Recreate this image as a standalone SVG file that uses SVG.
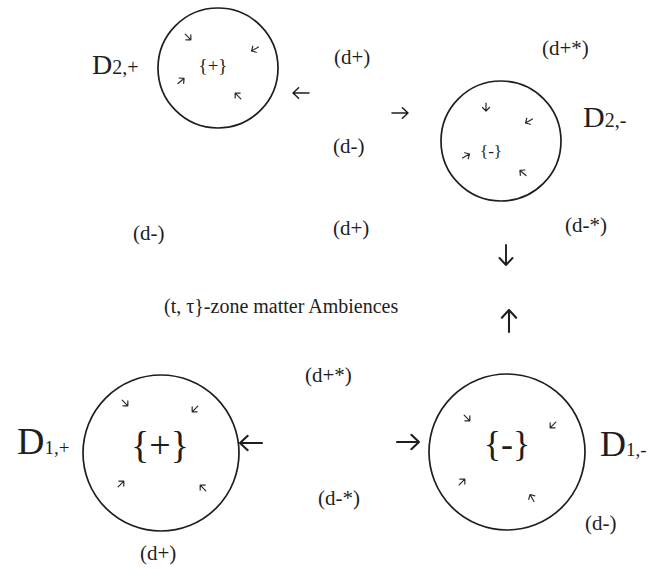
<svg xmlns="http://www.w3.org/2000/svg" width="651" height="573" viewBox="0 0 651 573">
<style>
text{font-family:"Liberation Serif","Times New Roman",serif;fill:#1e1e1e}
.lbl{font-size:21px}
.ring{fill:none;stroke:#1e1e1e;stroke-width:1.7}
.sa{fill:none;stroke:#2a2a2a;stroke-width:1.2;stroke-linecap:round;stroke-linejoin:round}
.ba{fill:none;stroke:#1e1e1e;stroke-width:1.9;stroke-linecap:round;stroke-linejoin:round}
</style>
<defs>
<g id="s"><path class="sa" d="M-4,0 L4,0 M0.5,-3.5 L4,0 L0.5,3.5"/></g>
<g id="b"><path class="ba" d="M-10,0 L10,0 M3,-6.5 L10,0 L3,6.5"/></g>
</defs>
<rect width="651" height="573" fill="#fff"/>

<g id="node-D2plus">
<circle class="ring" cx="218" cy="68" r="60"/>
<text x="92" y="74"><tspan font-size="28">D</tspan><tspan font-size="20">2,+</tspan></text>
<text x="213" y="72" font-size="19" text-anchor="middle">{+}</text>
<use href="#s" transform="translate(188,37) rotate(45)"/>
<use href="#s" transform="translate(255,49) rotate(150)"/>
<use href="#s" transform="translate(181,81) rotate(-40)"/>
<use href="#s" transform="translate(238,96) rotate(-135)"/>
</g>

<g id="node-D2minus">
<circle class="ring" cx="501" cy="141" r="60"/>
<text x="583" y="127"><tspan font-size="30">D</tspan><tspan font-size="20">2,-</tspan></text>
<text x="491" y="157" font-size="17" text-anchor="middle">{-}</text>
<use href="#s" transform="translate(486,107) rotate(90)"/>
<use href="#s" transform="translate(529,121) rotate(150)"/>
<use href="#s" transform="translate(466,156) rotate(-30)"/>
<use href="#s" transform="translate(523,173) rotate(-140)"/>
</g>

<g id="node-D1plus">
<circle class="ring" cx="161" cy="453" r="78"/>
<text x="17" y="454"><tspan font-size="38">D</tspan><tspan font-size="19">1,+</tspan></text>
<text x="160" y="458" font-size="38" text-anchor="middle">{+}</text>
<use href="#s" transform="translate(125,403) rotate(45)"/>
<use href="#s" transform="translate(195,409) rotate(135)"/>
<use href="#s" transform="translate(121,484) rotate(-45)"/>
<use href="#s" transform="translate(203,488) rotate(-135)"/>
</g>

<g id="node-D1minus">
<circle class="ring" cx="507" cy="452" r="78"/>
<text x="600" y="456"><tspan font-size="36">D</tspan><tspan font-size="19">1,-</tspan></text>
<text x="507" y="456" font-size="36" text-anchor="middle">{-}</text>
<use href="#s" transform="translate(467,418) rotate(45)"/>
<use href="#s" transform="translate(553,425) rotate(135)"/>
<use href="#s" transform="translate(462,482) rotate(-45)"/>
<use href="#s" transform="translate(532,498) rotate(-120)"/>
</g>

<g id="connectors">
<use href="#b" transform="translate(301,93) rotate(180) scale(0.8)"/>
<use href="#b" transform="translate(400,113) scale(0.8)"/>
<use href="#b" transform="translate(506,255) rotate(90)"/>
<use href="#b" transform="translate(509,321) rotate(-90) scale(1.1)"/>
<use href="#b" transform="translate(251,443) rotate(180) scale(1.1)"/>
<use href="#b" transform="translate(408,442) scale(1.1)"/>
</g>

<g id="labels" class="lbl">
<text x="334" y="64">(d+)</text>
<text x="542" y="55">(d+*)</text>
<text x="333" y="153">(d-)</text>
<text x="133" y="240">(d-)</text>
<text x="333" y="235">(d+)</text>
<text x="565" y="232">(d-*)</text>
<text x="164" y="313" font-size="20">(t, τ}-zone matter Ambiences</text>
<text x="305" y="382">(d+*)</text>
<text x="318" y="505">(d-*)</text>
<text x="585" y="530">(d-)</text>
<text x="140" y="560">(d+)</text>
</g>
</svg>
